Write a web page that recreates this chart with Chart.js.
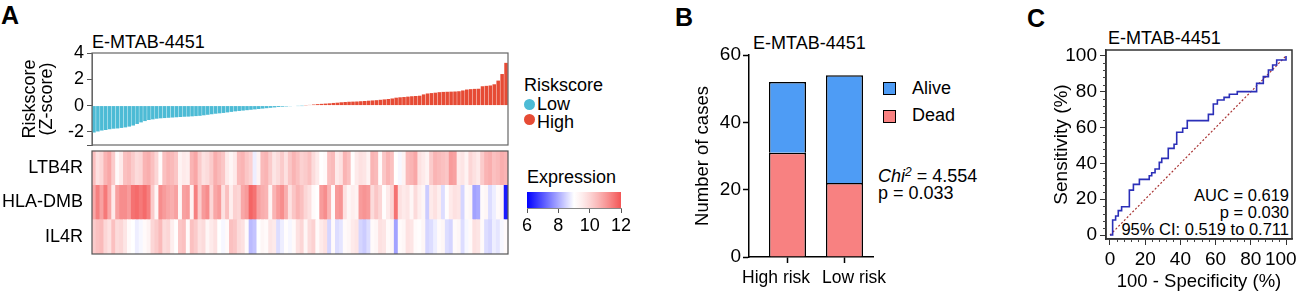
<!DOCTYPE html>
<html>
<head>
<meta charset="utf-8">
<script src="https://cdn.jsdelivr.net/npm/chart.js@4.4.0/dist/chart.umd.min.js"></script>
<style>
  body { margin: 0; width: 1299px; height: 293px; background: #fff; position: relative; overflow: hidden;
         font-family: "Liberation Sans", Arial, sans-serif; color: #000; }
  canvas { position: absolute; }
  .txt { position: absolute; white-space: nowrap; font-size: 18px; line-height: 1; }
  .letter { position: absolute; font-weight: bold; font-size: 25px; line-height: 1; }
  .dot { position: absolute; width: 11px; height: 11px; border-radius: 50%; }
  .sq { position: absolute; width: 11px; height: 11px; border: 1.5px solid #000; }
</style>
</head>
<body>
<div class="letter" style="left:1px; top:3px;">A</div>
<div class="letter" style="left:675px; top:5px;">B</div>
<div class="letter" style="left:1027px; top:6px;">C</div>

<div class="txt" style="left:92px; top:33px;">E-MTAB-4451</div>
<div class="txt" style="left:753px; top:34px;">E-MTAB-4451</div>
<div class="txt" style="left:1108px; top:29px;">E-MTAB-4451</div>

<!-- legenda do painel A -->
<div class="txt" style="left:524px; top:76px;">Riskscore</div>
<div class="dot" style="left:524px; top:99px; background:#4DBBD5;"></div>
<div class="txt" style="left:537px; top:95px;">Low</div>
<div class="dot" style="left:524px; top:114px; background:#E64B35;"></div>
<div class="txt" style="left:537px; top:113px;">High</div>
<div class="txt" style="left:527px; top:168px;">Expression</div>

<!-- legenda do painel B -->
<div class="sq" style="left:883px; top:82px; background:#4E9CF5;"></div>
<div class="txt" style="left:912px; top:79px;">Alive</div>
<div class="sq" style="left:883px; top:110px; background:#F88181;"></div>
<div class="txt" style="left:912px; top:106px;">Dead</div>
<div class="txt" style="left:878px; top:166px;"><i>Chi<sup style="font-size:12px; vertical-align:6px;">2</sup></i> = 4.554</div>
<div class="txt" style="left:878px; top:184px;">p = 0.033</div>

<!-- texto do painel C -->
<div class="txt" style="right:10px; top:187px; font-size:16.5px;">AUC = 0.619</div>
<div class="txt" style="right:10px; top:204px; font-size:16.5px;">p = 0.030</div>
<div class="txt" style="right:10px; top:221px; font-size:16.5px;">95% CI: 0.519 to 0.711</div>

<canvas id="riskChart" width="515" height="110" style="left:0; top:40px;"></canvas>
<canvas id="heatChart" width="515" height="110" style="left:0; top:148px;"></canvas>
<canvas id="scaleChart" width="125" height="55" style="left:515px; top:185px;"></canvas>
<canvas id="countChart" width="320" height="263" style="left:665px; top:30px;"></canvas>
<canvas id="rocChart" width="259" height="253" style="left:1040px; top:40px;"></canvas>

<script>
// Riskscore (Z-score) ordenado: grupo baixo (54) e grupo alto (52)
const lowScores = [-2.05, -1.97, -1.90, -1.86, -1.80, -1.76, -1.74, -1.70, -1.66, -1.60,
  -1.52, -1.40, -1.28, -1.18, -1.10, -1.05, -1.00, -0.97, -0.95, -0.93,
  -0.91, -0.89, -0.87, -0.85, -0.84, -0.82, -0.80, -0.78, -0.74, -0.70,
  -0.66, -0.62, -0.59, -0.56, -0.52, -0.48, -0.44, -0.41, -0.38, -0.35,
  -0.32, -0.29, -0.26, -0.23, -0.20, -0.17, -0.14, -0.11, -0.09, -0.07,
  -0.05, -0.04, -0.02, -0.01];
const highScores = [0.02, 0.05, 0.08, 0.11, 0.13, 0.15, 0.17, 0.20, 0.22, 0.25,
  0.27, 0.29, 0.30, 0.31, 0.33, 0.35, 0.37, 0.39, 0.41, 0.44,
  0.47, 0.50, 0.54, 0.60, 0.63, 0.65, 0.68, 0.71, 0.73, 0.75,
  0.85, 0.92, 0.95, 0.98, 1.02, 1.04, 1.05, 1.06, 1.07, 1.09,
  1.15, 1.22, 1.25, 1.27, 1.28, 1.47, 1.50, 1.53, 1.62, 1.90,
  2.40, 3.25];
const riskTicks = [-3, -2, 0, 2, 4];

// Expressão por amostra (mesma ordem do riskscore)
const genes = ['LTB4R', 'HLA-DMB', 'IL4R'];
const ltb4rExpr = [10.4, 9.8, 10.0, 10.6, 10.8, 10.2, 9.2, 9.6, 10.4, 10.5,
  10.2, 9.9, 10.0, 10.6, 10.7, 10.4, 10.0, 9.2, 10.4, 10.6,
  10.5, 10.3, 9.4, 9.6, 9.5, 10.6, 10.8, 10.2, 9.8, 9.9,
  10.2, 10.7, 10.5, 10.3, 9.6, 9.3, 9.6, 10.5, 10.6, 10.3,
  10.1, 8.8, 9.4, 10.5, 10.6, 10.2, 9.7, 9.9, 10.2, 9.8,
  10.3, 10.6, 10.4, 10.1,
  10.2, 10.4, 9.9, 9.6, 9.0, 9.2, 10.4, 10.5, 9.6, 9.8,
  10.6, 10.4, 9.1, 9.6, 9.8, 9.7, 9.4, 10.6, 10.5, 9.2,
  10.3, 10.6, 10.4, 9.0, 8.9, 9.4, 10.5, 10.6, 10.8, 9.8,
  9.6, 9.4, 10.2, 10.6, 10.5, 10.4, 10.3, 11.0, 10.9, 9.6,
  9.7, 9.4, 10.0, 9.8, 9.6, 10.2, 10.6, 10.7, 10.4, 10.5,
  10.7, 10.6];
const hlaDmbExpr = [10.8, 11.4, 10.9, 11.5, 10.8, 9.6, 10.9, 11.2, 11.2, 11.0,
  11.6, 11.7, 11.5, 11.7, 11.4, 10.2, 9.3, 11.2, 11.0, 10.8,
  10.7, 10.9, 9.3, 10.9, 11.0, 9.4, 11.4, 10.2, 11.0, 11.2,
  10.0, 10.8, 11.0, 9.8, 10.4, 9.5, 10.1, 10.0, 10.8, 11.0,
  11.8, 11.6, 10.9, 10.7, 10.6, 9.4, 10.6, 11.0, 11.2, 10.7,
  9.8, 10.3, 10.6, 10.4,
  10.0, 9.8, 9.2, 9.0, 11.0, 11.2, 10.6, 9.2, 11.0, 11.1,
  9.8, 9.3, 9.5, 9.4, 11.0, 11.1, 11.0, 9.9, 10.3, 10.0,
  9.1, 9.6, 10.0, 11.6, 9.8, 9.6, 9.7, 9.3, 9.9, 9.5,
  9.3, 8.4, 9.6, 9.8, 9.5, 8.6, 9.1, 9.6, 9.8, 9.7,
  8.5, 9.2, 9.3, 7.9, 8.0, 9.2, 9.3, 8.6, 8.8, 9.2,
  9.4, 6.3];
const il4rExpr = [10.2, 10.4, 10.5, 10.0, 9.8, 10.4, 9.9, 10.0, 9.7, 9.2,
  9.0, 8.8, 8.9, 9.2, 9.4, 10.0, 10.2, 10.5, 9.9, 10.0,
  9.5, 9.1, 10.3, 10.4, 9.2, 10.4, 10.2, 9.8, 9.9, 9.3,
  9.6, 9.8, 9.0, 8.9, 9.2, 10.4, 10.3, 9.9, 9.8, 9.2,
  8.2, 8.3, 9.0, 9.3, 9.2, 9.7, 9.6, 8.6, 8.8, 9.1,
  8.9, 9.2, 9.8, 10.0,
  9.3, 9.9, 10.1, 9.2, 9.6, 9.8, 8.5, 9.2, 8.6, 8.7,
  9.2, 9.3, 9.6, 9.7, 8.5, 8.4, 8.6, 9.2, 9.3, 9.8,
  9.7, 9.2, 9.3, 7.9, 9.2, 9.3, 9.8, 9.7, 9.2, 9.1,
  9.3, 8.5, 8.6, 8.8, 9.2, 9.3, 8.6, 8.5, 9.2, 9.3,
  8.6, 8.9, 9.2, 9.8, 9.7, 9.2, 8.6, 8.5, 8.8, 8.7,
  8.9, 9.2];
const exprTicks = [6, 8, 10, 12];

// Painel B: contagem de casos
const riskGroups = ['High risk', 'Low risk'];
const deadCounts = [31, 22];
const aliveCounts = [21, 32];

// Painel C: curva ROC (vértices da escada)
const rocFpr = [0, 1.5, 3.2, 4.7, 6.6, 11.0, 13.3, 16.7, 22.3, 23.7, 25.6, 28.0, 29.4, 33.1, 36.4,
  37.9, 41.3, 43.9, 55.9, 58.7, 61.0, 64.8, 67.8, 72.3, 83.3, 87.1, 90.0, 92.4, 94.7, 100];
const rocTpr = [0, 8.4, 10.6, 13.6, 15.8, 25.1, 28.3, 31.1, 33.1, 34.8, 36.9, 40.6, 42.8, 48.4, 50.7,
  57.4, 59.6, 63.9, 67.4, 73.2, 75.4, 76.9, 78.6, 80.1, 84.7, 88.5, 92.2, 95.0, 97.8, 100];
const rocTicks = [0, 20, 40, 60, 80, 100];

Chart.defaults.font.family = '"Liberation Sans", Arial, sans-serif';
Chart.defaults.font.size = 18;
Chart.defaults.color = '#000';
Chart.defaults.animation = false;
Chart.defaults.plugins.legend.display = false;
Chart.defaults.plugins.tooltip.enabled = false;
Chart.defaults.layout.autoPadding = false;

// fixa o tamanho do eixo e zera o padding automático dos rótulos
function fixAxis(dim, size) {
  return s => {
    if (size != null) s[dim] = size;
    s.paddingTop = 0; s.paddingBottom = 0; s.paddingLeft = 0; s.paddingRight = 0;
  };
}

// moldura em volta da área do gráfico
const framePlugin = {
  id: 'frame',
  afterDatasetsDraw(chart, args, opts) {
    const { ctx, chartArea: a } = chart;
    ctx.save();
    ctx.strokeStyle = opts.color || '#666';
    ctx.lineWidth = opts.width || 1;
    ctx.strokeRect(a.left, a.top, a.right - a.left, a.bottom - a.top);
    ctx.restore();
  }
};

// cor da expressão: azul (6) -> branco (9) -> vermelho (12)
function exprColor(v) {
  if (v <= 9) {
    const t = Math.max(0, (v - 6) / 3);
    return `rgb(${Math.round(255 * t)}, ${Math.round(255 * t)}, 255)`;
  }
  const t = Math.pow(Math.min(1, (v - 9) / 3), 1.3);
  return `rgb(${Math.round(255 - 12 * t)}, ${Math.round(255 - 170 * t)}, ${Math.round(255 - 170 * t)})`;
}

const riskScores = lowScores.concat(highScores);
const sampleIds = riskScores.map((_, i) => 'S' + (i + 1));
const riskColors = riskScores.map((_, i) => i < lowScores.length ? '#4DBBD5' : '#E64B35');

// Painel A - riskscore
new Chart(document.getElementById('riskChart'), {
  type: 'bar',
  data: {
    labels: sampleIds,
    datasets: [{ data: riskScores, backgroundColor: riskColors, borderWidth: 0, barPercentage: 0.9, categoryPercentage: 1 }]
  },
  options: {
    responsive: false,
    layout: { padding: { top: 13, right: 7, bottom: 5, left: 0 } },
    scales: {
      x: { display: false, afterFit: fixAxis('height', 0) },
      y: {
        min: riskTicks[0], max: riskTicks[riskTicks.length - 1],
        afterBuildTicks: s => { s.ticks = riskTicks.map(v => ({ value: v })); },
        ticks: { padding: 3, autoSkip: false, font: { size: 18 }, callback: v => v === riskTicks[0] ? '' : v },
        grid: { drawOnChartArea: false, tickLength: 5, tickColor: '#555' },
        border: { color: '#666' },
        title: { display: true, text: ['Riskscore', '(Z-score)'], font: { size: 18, lineHeight: 0.95 }, padding: { top: 21, bottom: 0 } },
        afterFit: fixAxis('width', 92)
      }
    },
    plugins: { frame: { color: '#666', width: 1.2 } }
  },
  plugins: [framePlugin]
});

// Painel A - heatmap (barras empilhadas, uma por gene)
const exprByGene = [ltb4rExpr, hlaDmbExpr, il4rExpr];
new Chart(document.getElementById('heatChart'), {
  type: 'bar',
  data: {
    labels: sampleIds,
    datasets: exprByGene.slice().reverse().map(vals => ({
      data: vals.map(() => 1),
      backgroundColor: vals.map(exprColor),
      borderWidth: 0,
      barPercentage: 1,
      categoryPercentage: 1
    }))
  },
  options: {
    responsive: false,
    layout: { padding: { top: 3, right: 7, bottom: 4, left: 0 } },
    scales: {
      x: { display: false, stacked: true, afterFit: fixAxis('height', 0) },
      y: {
        stacked: true, min: 0, max: 3,
        afterBuildTicks: s => { s.ticks = genes.map((g, i) => ({ value: i + 0.5 })); },
        ticks: { padding: 9, autoSkip: false, font: { size: 18 }, callback: v => genes[2 - Math.floor(v)] },
        grid: { display: false, drawTicks: false },
        border: { display: false },
        afterFit: fixAxis('width', 92)
      }
    },
    plugins: { frame: { color: '#555', width: 1.2 } }
  },
  plugins: [framePlugin]
});

// Painel A - escala de cor
new Chart(document.getElementById('scaleChart'), {
  type: 'bar',
  data: {
    labels: ['Expression'],
    datasets: [{
      data: [[exprTicks[0], exprTicks[exprTicks.length - 1]]],
      barPercentage: 1, categoryPercentage: 1, borderWidth: 0,
      backgroundColor: c => {
        const chart = c.chart;
        const xs = chart.scales.x;
        if (!chart.chartArea || !xs) return '#fff';
        const g = chart.ctx.createLinearGradient(xs.getPixelForValue(6), 0, xs.getPixelForValue(12), 0);
        for (let v = 6; v <= 12; v += 0.5) g.addColorStop((v - 6) / 6, exprColor(v));
        return g;
      }
    }]
  },
  options: {
    responsive: false,
    indexAxis: 'y',
    layout: { padding: { top: 7, right: 19, bottom: 0, left: 12 } },
    scales: {
      y: { display: false, afterFit: fixAxis('width', 0) },
      x: {
        min: 6, max: 12,
        afterBuildTicks: s => { s.ticks = exprTicks.map(v => ({ value: v })); },
        ticks: { padding: 2, maxRotation: 0, autoSkip: false, font: { size: 18 } },
        grid: { drawOnChartArea: false, tickLength: 5, tickColor: '#555' },
        border: { color: '#888' },
        afterFit: fixAxis('height', 32)
      }
    }
  }
});

// Painel B - casos por grupo de risco
// eixo x: marcas nas barras; eixo xLab: só os rótulos, afastados como no original
const countMin = -0.675, countMax = 1.5;
new Chart(document.getElementById('countChart'), {
  type: 'bar',
  data: {
    datasets: [
      { label: 'Dead', data: deadCounts.map((v, i) => ({ x: i, y: v })), backgroundColor: '#F88181' },
      { label: 'Alive', data: aliveCounts.map((v, i) => ({ x: i, y: v })), backgroundColor: '#4E9CF5' }
    ]
  },
  options: {
    responsive: false,
    layout: { padding: { top: 25, right: 112, bottom: 0, left: 0 } },
    datasets: { bar: { borderColor: '#000', borderWidth: 1.5, barPercentage: 0.65, categoryPercentage: 1 } },
    scales: {
      x: {
        type: 'linear', stacked: true, offset: false, min: countMin, max: countMax,
        afterBuildTicks: s => { s.ticks = riskGroups.map((g, i) => ({ value: i })); },
        ticks: { display: false },
        grid: { offset: false, drawOnChartArea: false, tickLength: 6, tickColor: '#000', tickWidth: 1.5 },
        border: { color: '#000', width: 1.5 },
        afterFit: fixAxis('height', 7)
      },
      xLab: {
        type: 'linear', position: 'bottom', offset: false, min: countMin, max: countMax,
        afterBuildTicks: s => { s.ticks = [{ value: -0.2 }, { value: 1.167 }]; },
        ticks: { padding: 4, maxRotation: 0, autoSkip: false, font: { size: 17.5 },
                 callback: (v, i) => riskGroups[i] },
        grid: { display: false, drawTicks: false },
        border: { display: false },
        afterFit: fixAxis('height', 29)
      },
      y: {
        stacked: true, min: 0, max: 60,
        ticks: { stepSize: 20, padding: 2, autoSkip: false, font: { size: 19 } },
        grid: { drawOnChartArea: false, tickLength: 6, tickColor: '#000', tickWidth: 1.5 },
        border: { color: '#000', width: 1.5 },
        title: { display: true, text: 'Number of cases', font: { size: 18.5 }, padding: { top: 27, bottom: 0 } },
        afterFit: fixAxis('width', 84)
      }
    }
  }
});

// Painel C - curva ROC
const minorTicks = {
  id: 'minorTicks',
  afterDraw(chart) {
    const { ctx, chartArea: a, scales: { x, y } } = chart;
    ctx.save();
    ctx.strokeStyle = '#444';
    ctx.lineWidth = 1;
    ctx.beginPath();
    for (let v = 0; v <= 100; v += 4) {
      if (v % 20 === 0) continue;
      const px = Math.round(x.getPixelForValue(v)) + 0.5;
      ctx.moveTo(px, a.bottom); ctx.lineTo(px, a.bottom + 3);
      const py = Math.round(y.getPixelForValue(v)) + 0.5;
      ctx.moveTo(a.left, py); ctx.lineTo(a.left - 3, py);
    }
    ctx.stroke();
    ctx.restore();
  }
};

const rocMin = -2.27, rocMax = 103.4;
new Chart(document.getElementById('rocChart'), {
  type: 'line',
  data: {
    datasets: [
      {
        data: rocFpr.map((x, i) => ({ x: x, y: rocTpr[i] })),
        stepped: 'before', borderColor: '#2B2FB8', borderWidth: 1.6, pointRadius: 0, fill: false
      },
      {
        data: [{ x: 0, y: 0 }, { x: 100, y: 100 }],
        borderColor: '#A83232', borderWidth: 1.2, borderDash: [2, 2], pointRadius: 0, fill: false
      }
    ]
  },
  options: {
    responsive: false,
    layout: { padding: { top: 10, right: 7, bottom: 0, left: 0 } },
    scales: {
      x: {
        type: 'linear', min: rocMin, max: rocMax,
        afterBuildTicks: s => { s.ticks = rocTicks.map(v => ({ value: v })); },
        ticks: { display: false },
        grid: { drawOnChartArea: false, tickLength: 6, tickColor: '#333' },
        border: { color: '#333', width: 1.5 },
        afterFit: fixAxis('height', 6)
      },
      // rótulos do eixo x; o último ("100") recua um pouco para caber na borda
      xLab: {
        type: 'linear', position: 'bottom', min: rocMin, max: rocMax,
        afterBuildTicks: s => { s.ticks = rocTicks.map(v => ({ value: Math.min(v, 97) })); },
        ticks: { padding: 3, maxRotation: 0, autoSkip: false, font: { size: 19 }, callback: (v, i) => rocTicks[i] },
        grid: { display: false, drawTicks: false },
        border: { display: false },
        title: { display: true, text: '100 - Specificity (%)', font: { size: 18.5 }, padding: { top: 0, bottom: 0 } },
        afterFit: fixAxis('height', 48)
      },
      y: {
        min: -2.23, max: 103.35,
        afterBuildTicks: s => { s.ticks = rocTicks.map(v => ({ value: v })); },
        ticks: { padding: 3, autoSkip: false, font: { size: 19 } },
        grid: { drawOnChartArea: false, tickLength: 6, tickColor: '#333' },
        border: { color: '#333', width: 1.5 },
        title: { display: true, text: 'Sensitivity (%)', font: { size: 19 }, padding: { top: 10, bottom: 0 } },
        afterFit: fixAxis('width', 66)
      }
    },
    plugins: { frame: { color: '#333', width: 1.5 } }
  },
  plugins: [framePlugin, minorTicks]
});
</script>
</body>
</html>
